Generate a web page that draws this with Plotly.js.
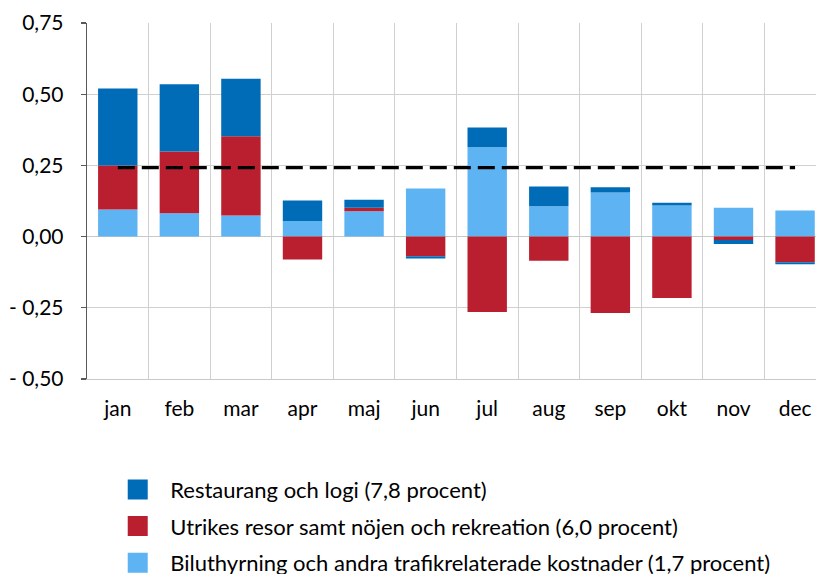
<!DOCTYPE html>
<html>
<head>
<meta charset="utf-8">
<script src="https://cdn.plot.ly/plotly-3.0.1.min.js"></script>
<style>html,body{margin:0;padding:0;background:#fff;}</style>
</head>
<body>
<div id="chart" style="width:816px;height:574px;"></div>
<script>
const months = ["jan","feb","mar","apr","maj","jun","jul","aug","sep","okt","nov","dec"];
const biluthyrning = [0.095, 0.082, 0.074, 0.055, 0.089, 0.169, 0.314, 0.107, 0.155, 0.109, 0.101, 0.092];
const utrikes = [0.155, 0.217, 0.278, -0.080, 0.012, -0.069, -0.265, -0.085, -0.268, -0.216, -0.012, -0.090];
const restaurang = [0.270, 0.236, 0.202, 0.072, 0.028, -0.008, 0.069, 0.069, 0.018, 0.010, -0.014, -0.007];
const totalLine = [0.242, 0.242, 0.242, 0.242, 0.242, 0.242, 0.242, 0.242, 0.242, 0.242, 0.242, 0.242];
const names = ["Biluthyrning och andra trafikrelaterade kostnader (1,7 procent)",
               "Utrikes resor samt nöjen och rekreation (6,0 procent)",
               "Restaurang och logi (7,8 procent)"];
const colors = ["#5eb3f2", "#b91f2e", "#006cb7"];
const yTickVals = [-0.5, -0.25, 0, 0.25, 0.5, 0.75];
const yTickText = ["- 0,50", "- 0,25", "0,00", "0,25", "0,50", "0,75"];

const series = [biluthyrning, utrikes, restaurang];
const traces = [];
series.forEach((vals, i) => {
  traces.push({type: "bar", x: months, y: vals, name: names[i], showlegend: false,
    marker: {color: colors[i], line: {width: 0}}, hoverinfo: "skip"});
});
traces.push({type: "scatter", mode: "lines", x: months, y: totalLine, showlegend: false,
  line: {color: "#000", width: 3.3, dash: "17px,7px"}, hoverinfo: "skip"});
[2, 1, 0].forEach((i) => {
  traces.push({type: "scatter", mode: "markers", x: [null], y: [null], name: names[i],
    legendgroup: "g" + i,
    marker: {symbol: "square", size: 16, color: colors[i], line: {color: colors[i], width: 4}}});
});

const layout = {
  width: 816, height: 574,
  margin: {l: 87, r: 0, t: 23, b: 195, autoexpand: false},
  paper_bgcolor: "#fff", plot_bgcolor: "#fff",
  font: {family: "Lato, 'Open Sans', sans-serif", size: 21, color: "#000"},
  barmode: "relative",
  bargap: 0.36,
  showlegend: true,
  legend: {orientation: "v", x: 0.025, xanchor: "left", y: -0.252, yanchor: "top",
    traceorder: "grouped", tracegroupgap: 5, itemwidth: 55,
    font: {family: "Lato, 'Open Sans', sans-serif", size: 22, color: "#000"},
    itemsizing: "trace", bgcolor: "rgba(0,0,0,0)"},
  xaxis: {type: "category", range: [-0.5, 11.34], tickson: "boundaries",
    showgrid: true, gridcolor: "#d0d0d0", gridwidth: 1,
    showline: true, linecolor: "#c8c8c8", linewidth: 1.3,
    ticks: "", ticklabelstandoff: 10, fixedrange: true},
  yaxis: {range: [-0.5, 0.75], tickvals: yTickVals, ticktext: yTickText,
    showgrid: true, gridcolor: "#d0d0d0", gridwidth: 1.3,
    zeroline: true, zerolinecolor: "#c8c8c8", zerolinewidth: 1.3,
    showline: true, linecolor: "#595959", linewidth: 1.3,
    ticks: "outside", ticklen: 5, tickcolor: "#595959", tickwidth: 1.3,
    ticklabelstandoff: 13, fixedrange: true}
};

Plotly.newPlot("chart", traces, layout, {displayModeBar: false, staticPlot: true});
</script>
</body>
</html>
